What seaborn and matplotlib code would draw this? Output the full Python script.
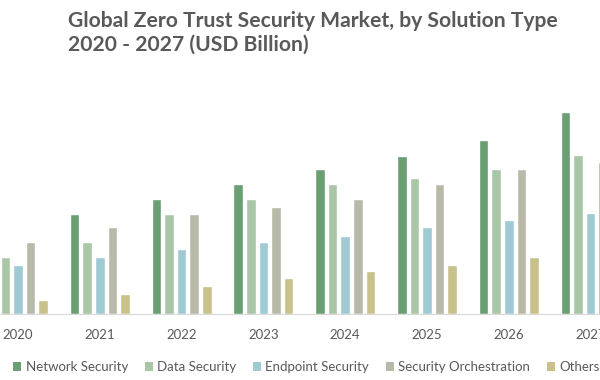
import pandas as pd
import seaborn as sns
import matplotlib.pyplot as plt
from matplotlib.patches import Patch

# =========================
# DATA (USD Billion)
# =========================
years = ["2020", "2021", "2022", "2023", "2024", "2025", "2026", "2027"]
solution_types = ["Network Security", "Data Security", "Endpoint Security",
                  "Security Orchestration", "Others"]

network_security = [5.9, 6.9, 7.9, 9.0, 10.0, 10.9, 12.0, 13.9]
data_security = [3.9, 5.0, 6.9, 7.9, 9.0, 9.4, 10.0, 11.0]
endpoint_security = [3.4, 3.9, 4.5, 5.0, 5.4, 6.0, 6.5, 7.0]
security_orchestration = [5.0, 6.0, 6.9, 7.4, 7.9, 9.0, 10.0, 10.5]
others = [1.0, 1.4, 1.9, 2.5, 3.0, 3.4, 3.9, 4.4]

colors = ["#6a9f73", "#a9c6a6", "#9fc9d3", "#b9b9a9", "#c8c28a"]
TEXT = "#595959"

# =========================
# LONG FORMAT
# =========================
series = [network_security, data_security, endpoint_security,
          security_orchestration, others]
rows = []
for name, vals in zip(solution_types, series):
    for y, v in zip(years, vals):
        rows.append({"year": y, "value": v, "type": name})
df = pd.DataFrame(rows)

# =========================
# PLOT
# =========================
sns.set_theme(style="white")
plt.rcParams["font.family"] = ["Lato", "DejaVu Sans"]

fig = plt.figure(figsize=(6, 3.8), dpi=100)
ax = fig.add_axes([0, 66 / 380, 1, 214 / 380])

sns.barplot(data=df, x="year", y="value", hue="type", hue_order=solution_types,
            palette=colors, width=0.77, gap=0.25, saturation=1, legend=False,
            ax=ax)

# the picture is a crop: first and last groups run off the edges
ax.set_xlim(-0.22, 7.115)
ax.set_ylim(0, 14.76)
ax.set_xlabel("")
ax.set_ylabel("")
ax.set_yticks([])
for side in ["top", "left", "right"]:
    ax.spines[side].set_visible(False)
ax.spines["bottom"].set_color("#d9d9d9")
ax.spines["bottom"].set_linewidth(0.8)
ax.tick_params(axis="x", length=0, pad=11, labelsize=9.5, labelcolor=TEXT)

fig.text(0.113, 0.972,
         "Global Zero Trust Security Market, by Solution Type\n2020 - 2027 (USD Billion)",
         ha="left", va="top", fontsize=15.2, fontweight="bold", color=TEXT,
         linespacing=1.25)

handles = [Patch(facecolor=c, edgecolor="none") for c in colors]
fig.legend(handles, solution_types, loc="center left", bbox_to_anchor=(0.0133, 0.034),
           ncol=5, frameon=False, fontsize=9.5, labelcolor=TEXT,
           handlelength=0.6, handleheight=0.6, handletextpad=0.35,
           columnspacing=1.25, borderaxespad=0)

fig.savefig("out.png", dpi=100)
